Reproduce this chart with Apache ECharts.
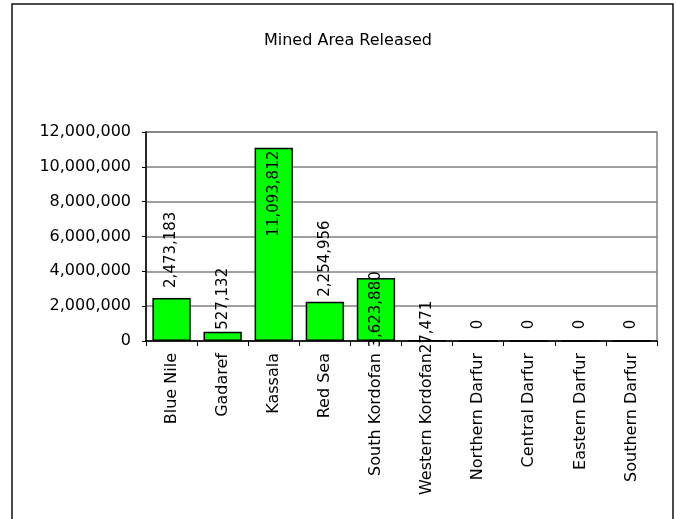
<!DOCTYPE html>
<html>
<head>
<meta charset="utf-8">
<script src="https://cdn.jsdelivr.net/npm/echarts@6/dist/echarts.min.js"></script>
<style>html,body{margin:0;padding:0;background:#fff}#c{width:676px;height:519px}</style>
</head>
<body>
<div id="c"></div>
<script>
var categories = ["Blue Nile","Gadaref","Kassala","Red Sea","South Kordofan","Western Kordofan","Northern Darfur","Central Darfur","Eastern Darfur","Southern Darfur"];
var minedAreaReleased = [2473183, 527132, 11093812, 2254956, 3623880, 27471, 0, 0, 0, 0];
var yTicks = [0, 2000000, 4000000, 6000000, 8000000, 10000000, 12000000];

var FONT = "DejaVu Sans";
function fmt(v){ return String(v).replace(/\B(?=(\d{3})+(?!\d))/g, ","); }

// label placement tweaks (by category index), mimicking the reference
var labelTweaks = {
  0: {distance: 10},
  1: {distance: 2},
  2: {position: "insideTop", align: "right", distance: 3},
  3: {distance: 5},
  4: {position: "inside", align: "center"},
  5: {position: "top", align: "center", distance: 13},
  6: {distance: 11}, 7: {distance: 11}, 8: {distance: 11}, 9: {distance: 11}
};

var data = minedAreaReleased.map(function(v, i){
  var item = {value: v};
  if (labelTweaks[i]) item.label = labelTweaks[i];
  return item;
});

var chart = echarts.init(document.getElementById("c"), null, {renderer: "canvas"});
chart.setOption({
  animation: false,
  backgroundColor: "#fff",
  title: {
    text: "Mined Area Released",
    left: 343, top: 28, textAlign: "center",
    textStyle: {fontFamily: FONT, fontSize: 16, fontWeight: "normal", color: "#000"}
  },
  graphic: [{
    type: "rect", silent: true,
    shape: {x: 12, y: 4, width: 661, height: 540},
    style: {fill: null, stroke: "#111", lineWidth: 1.5}
  }],
  grid: {
    left: 146, right: 19, top: 132, bottom: 178,
    show: true, borderColor: "#808080", borderWidth: 1.5, backgroundColor: "transparent"
  },
  xAxis: {
    type: "category",
    data: categories,
    axisLine: {lineStyle: {color: "#000", width: 1.5}},
    axisTick: {show: true, length: 5, alignWithLabel: false, lineStyle: {color: "#000", width: 1}},
    axisLabel: {rotate: 90, interval: 0, margin: 12, color: "#000", fontFamily: FONT, fontSize: 16}
  },
  yAxis: {
    type: "value",
    min: yTicks[0], max: yTicks[yTicks.length - 1], interval: yTicks[1] - yTicks[0],
    axisLine: {show: true, lineStyle: {color: "#000", width: 1.5}},
    axisTick: {show: true, length: 4, lineStyle: {color: "#000", width: 1}},
    splitLine: {show: true, lineStyle: {color: "#808080", width: 1.5}},
    axisLabel: {margin: 15, color: "#000", fontFamily: FONT, fontSize: 16, formatter: function(v){ return fmt(v); }}
  },
  series: [{
    type: "bar",
    data: data,
    barCategoryGap: "25%",
    itemStyle: {color: "#00FF00", borderColor: "#000", borderWidth: 1.5},
    label: {
      show: true, position: "top", rotate: 90, align: "left", verticalAlign: "middle",
      distance: 6, color: "#000", fontFamily: FONT, fontSize: 15,
      formatter: function(p){ return fmt(p.value); }
    }
  }]
});
</script>
</body>
</html>
